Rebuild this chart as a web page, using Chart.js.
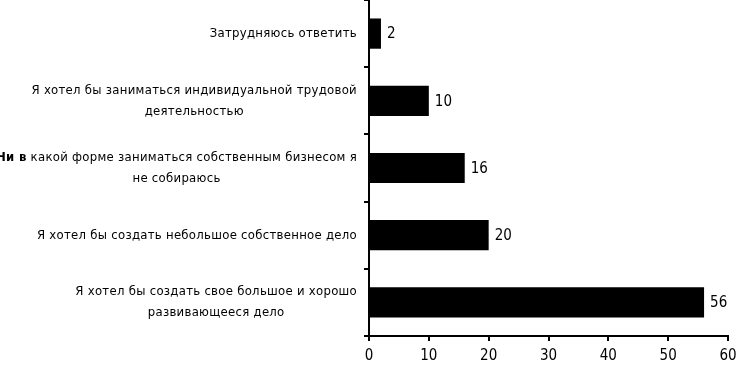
<!DOCTYPE html>
<html>
<head>
<meta charset="utf-8">
<script src="https://cdn.jsdelivr.net/npm/chart.js@4/dist/chart.umd.min.js"></script>
<style>
  html, body { margin: 0; padding: 0; background: #fff; }
  #wrap { width: 736px; height: 368px; }
</style>
</head>
<body>
<div id="wrap"><canvas id="c" width="736" height="368"></canvas></div>
<script>
const categories = [
  ["Затрудняюсь ответить"],
  ["Я хотел бы заниматься индивидуальной трудовой", "деятельностью"],
  ["Ни в какой форме заниматься собственным бизнесом я", "не собираюсь"],
  ["Я хотел бы создать небольшое собственное дело"],
  ["Я хотел бы создать свое большое и хорошо", "развивающееся дело"]
];
const boldPrefixes = ["", "", "Ни в", "", ""];
const values = [2, 10, 16, 20, 56];
const xMin = 0, xMax = 60, xStep = 10;

const FAMILY = '"Liberation Sans Narrow", "DejaVu Sans Condensed", Arial, sans-serif';
const LABEL_FONT = '13px ' + FAMILY;
const LABEL_FONT_BOLD = 'bold 13px ' + FAMILY;
const LABEL_SPACING = '0.28px';

const labelPlugin = {
  id: 'customLabels',
  afterDraw(chart) {
    const ctx = chart.ctx;
    const y = chart.scales.y;
    const rightX = 357;
    ctx.save();
    ctx.fillStyle = '#000';
    ctx.textBaseline = 'middle';
    ctx.letterSpacing = LABEL_SPACING;
    categories.forEach((lines, i) => {
      const cy = y.getPixelForValue(i);
      const n = lines.length;
      const gap = 21;
      const startY = cy - (n - 1) * gap / 2;
      const w0 = measureLine(ctx, lines[0], boldPrefixes[i]);
      const center0 = rightX - w0 / 2;
      lines.forEach((line, j) => {
        const prefix = j === 0 ? boldPrefixes[i] : "";
        const w = measureLine(ctx, line, prefix);
        const x0 = j === 0 ? rightX - w : center0 - w / 2;
        drawLine(ctx, line, prefix, x0, startY + j * gap);
      });
    });
    // value labels
    const meta = chart.getDatasetMeta(0);
    ctx.font = '15px ' + FAMILY;
    ctx.letterSpacing = '0px';
    ctx.fillStyle = '#000';
    ctx.textAlign = 'left';
    meta.data.forEach((bar, i) => {
      ctx.fillText(String(values[i]), bar.x + 6, bar.y + 1);
    });
    ctx.restore();
  }
};
function measureLine(ctx, line, prefix) {
  if (prefix && line.startsWith(prefix)) {
    ctx.font = LABEL_FONT_BOLD;
    const a = ctx.measureText(prefix).width;
    ctx.font = LABEL_FONT;
    const b = ctx.measureText(line.slice(prefix.length)).width;
    return a + b;
  }
  ctx.font = LABEL_FONT;
  return ctx.measureText(line).width;
}
function drawLine(ctx, line, prefix, x, y) {
  ctx.textAlign = 'left';
  if (prefix && line.startsWith(prefix)) {
    ctx.font = LABEL_FONT_BOLD;
    ctx.fillText(prefix, x, y);
    const a = ctx.measureText(prefix).width;
    ctx.font = LABEL_FONT;
    ctx.fillText(line.slice(prefix.length), x + a, y);
  } else {
    ctx.font = LABEL_FONT;
    ctx.fillText(line, x, y);
  }
}

new Chart(document.getElementById('c'), {
  type: 'bar',
  data: {
    labels: categories,
    datasets: [{
      data: values,
      backgroundColor: '#000',
      borderWidth: 0,
      barPercentage: 0.9,
      categoryPercentage: 0.5
    }]
  },
  options: {
    indexAxis: 'y',
    responsive: false,
    animation: false,
    devicePixelRatio: 1,
    layout: { padding: { top: 0, right: 8, bottom: 0, left: 0 } },
    plugins: { legend: { display: false }, tooltip: { enabled: false } },
    scales: {
      y: {
        type: 'category',
        offset: true,
        grid: { offset: true, drawOnChartArea: false, tickLength: 5, color: '#000', lineWidth: 2 },
        border: { color: '#000', width: 2 },
        ticks: { display: false },
        afterFit(scale) { scale.width = 369; }
      },
      x: {
        min: xMin, max: xMax,
        grid: { drawOnChartArea: false, tickLength: 5, color: '#000', lineWidth: 2 },
        border: { color: '#000', width: 2 },
        ticks: {
          stepSize: xStep,
          color: '#000',
          padding: 6,
          font: { family: FAMILY, size: 15 }
        },
        afterFit(scale) { scale.height = 32; scale.paddingRight = 0; scale.paddingLeft = 0; }
      }
    }
  },
  plugins: [labelPlugin]
});
</script>
</body>
</html>
